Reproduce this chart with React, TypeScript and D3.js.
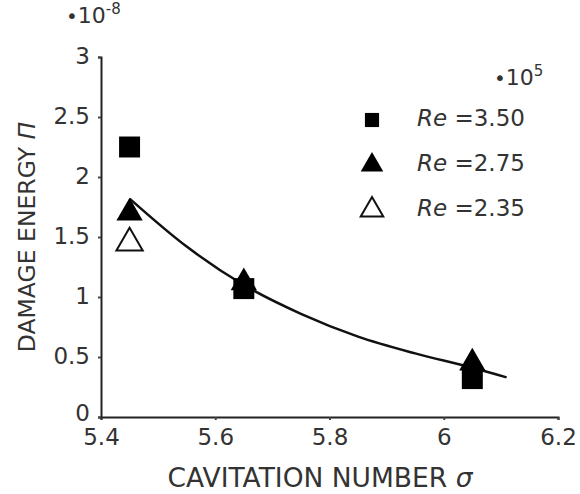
import React, { useEffect, useRef } from "react";
import * as d3 from "d3";

// measured values (sigma, damage energy x1e-8)
const sigmaRe350 = [5.45, 5.65, 6.05];
const piRe350 = [2.25, 1.07, 0.32];
const sigmaRe275 = [5.45, 5.65, 6.05];
const piRe275 = [1.7, 1.12, 0.45];
const sigmaRe235 = [5.45];
const piRe235 = [1.45];

// fitted trend line
const fitSigma = [5.45, 5.55, 5.65, 5.75, 5.85, 5.95, 6.05, 6.11];
const fitPi = [1.82, 1.42, 1.1, 0.86, 0.67, 0.53, 0.41, 0.33];

const xTicks = [5.4, 5.6, 5.8, 6, 6.2];
const yTicks = [0, 0.5, 1, 1.5, 2, 2.5, 3];
const legendLabels = ["3.50", "2.75", "2.35"];

const W = 580;
const H = 494;
const FONT = "'DejaVu Sans', Verdana, sans-serif";
const TXT = "#333";

function App() {
  const ref = useRef<SVGSVGElement>(null);

  useEffect(() => {
    const svg = d3.select(ref.current);
    svg.selectAll("*").remove();

    const x = d3.scaleLinear().domain([5.4, 6.2]).range([101, 558]);
    const y = d3.scaleLinear().domain([0, 3]).range([417, 57]);

    // axes
    const xAxis = svg.append("g").attr("transform", `translate(0,${y(0)})`)
      .call(d3.axisBottom(x).tickValues(xTicks).tickSize(3).tickFormat(d3.format("")));
    xAxis.select(".domain").attr("stroke", "#222").attr("stroke-width", 2);
    xAxis.selectAll(".tick line").attr("stroke", "#444").attr("stroke-width", 2);
    xAxis.selectAll("text").attr("font-family", FONT).attr("font-size", 23).attr("fill", TXT)
      .attr("y", 11).attr("dy", "0.75em");

    const yAxis = svg.append("g").attr("transform", `translate(${x(5.4)},0)`)
      .call(d3.axisLeft(y).tickValues(yTicks).tickSize(3).tickFormat(d3.format("")));
    yAxis.select(".domain").attr("stroke", "#222").attr("stroke-width", 2);
    yAxis.selectAll(".tick line").attr("stroke", "#444").attr("stroke-width", 2);
    yAxis.selectAll("text").attr("font-family", FONT).attr("font-size", 23).attr("fill", TXT)
      .attr("x", -11).attr("dy", "0.3em");
    // corner label sits a touch higher so it clears 5.4
    yAxis.selectAll(".tick").filter((d: any) => d === 0).select("text").attr("dy", "0.15em");

    // trend line
    const line = d3.line<number>()
      .x((d, i) => x(fitSigma[i]))
      .y(d => y(d))
      .curve(d3.curveMonotoneX);
    svg.append("path").datum(fitPi).attr("d", line).attr("fill", "none")
      .attr("stroke", "#111").attr("stroke-width", 2.5);

    const square = d3.symbol().type(d3.symbolSquare).size(440);
    const tri = d3.symbol().type(d3.symbolTriangle).size(300);

    svg.append("g").selectAll("path").data(piRe235).enter().append("path")
      .attr("d", tri)
      .attr("transform", (d, i) => `translate(${x(sigmaRe235[i])},${y(d)})`)
      .attr("fill", "#fff").attr("stroke", "#111").attr("stroke-width", 2);

    svg.append("g").selectAll("path").data(piRe350).enter().append("path")
      .attr("d", square)
      .attr("transform", (d, i) => `translate(${x(sigmaRe350[i])},${y(d)})`)
      .attr("fill", "#000");

    svg.append("g").selectAll("path").data(piRe275).enter().append("path")
      .attr("d", tri)
      .attr("transform", (d, i) => `translate(${x(sigmaRe275[i])},${y(d)})`)
      .attr("fill", "#000");

    // legend
    const legendY = [120, 165, 210];
    const legendSym = [
      d3.symbol().type(d3.symbolSquare).size(200),
      d3.symbol().type(d3.symbolTriangle).size(220),
      d3.symbol().type(d3.symbolTriangle).size(220),
    ];
    legendLabels.forEach((lab, i) => {
      svg.append("path").attr("d", legendSym[i]())
        .attr("transform", `translate(372,${legendY[i]})`)
        .attr("fill", i === 2 ? "#fff" : "#000")
        .attr("stroke", i === 2 ? "#111" : "none").attr("stroke-width", 2);
      const t = svg.append("text").attr("x", 417).attr("y", legendY[i] + 6)
        .attr("font-family", FONT).attr("font-size", 23).attr("fill", TXT);
      t.append("tspan").attr("font-style", "italic").text("Re");
      t.append("tspan").text(" =" + lab);
    });

    // multipliers
    const m1 = svg.append("text").attr("x", 66).attr("y", 23)
      .attr("font-family", FONT).attr("font-size", 22).attr("fill", TXT);
    m1.append("tspan").attr("font-size", 20).text("•");
    m1.append("tspan").text("10");
    m1.append("tspan").attr("font-size", 15).attr("dy", -9).text("-8");

    const m2 = svg.append("text").attr("x", 494).attr("y", 85)
      .attr("font-family", FONT).attr("font-size", 22).attr("fill", TXT);
    m2.append("tspan").attr("font-size", 20).text("•");
    m2.append("tspan").text("10");
    m2.append("tspan").attr("font-size", 15).attr("dy", -9).text("5");

    // axis titles
    const xt = svg.append("text").attr("x", 320).attr("y", 487).attr("text-anchor", "middle")
      .attr("font-family", FONT).attr("font-size", 26.5).attr("fill", TXT);
    xt.append("tspan").text("CAVITATION NUMBER ");
    xt.append("tspan").attr("font-style", "italic").text("σ");

    const yt = svg.append("text").attr("transform", "translate(35,237) rotate(-90)")
      .attr("text-anchor", "middle")
      .attr("font-family", FONT).attr("font-size", 23.5).attr("fill", TXT);
    yt.append("tspan").text("DAMAGE ENERGY ");
    yt.append("tspan").attr("font-style", "italic").text("Π");
  }, []);

  return (
    <svg ref={ref} width={W} height={H}
      style={{ position: "absolute", left: 0, top: 0, background: "#fff" }} />
  );
}

export default App;
